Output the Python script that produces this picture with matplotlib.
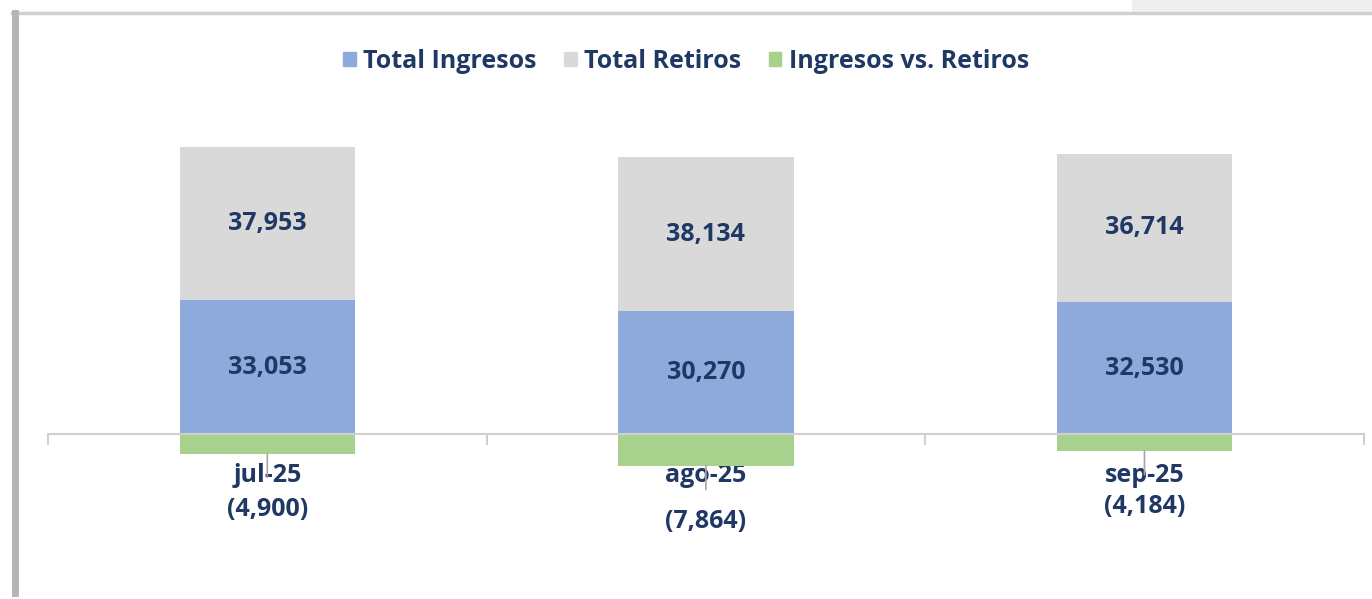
import matplotlib.pyplot as plt
from matplotlib.lines import Line2D
from matplotlib.patches import Rectangle, Patch
import numpy as np

meses = ['jul-25', 'ago-25', 'sep-25']
ingresos = [33053, 30270, 32530]
retiros = [37953, 38134, 36714]
neto = [-4900, -7864, -4184]

azul = '#8EA9DB'
gris = '#D9D9D9'
verde = '#A9D18E'
texto = '#1F3864'

plt.rcParams['font.family'] = ['Open Sans', 'DejaVu Sans']
fs = 18

fig = plt.figure(figsize=(13.72, 5.99), dpi=100)
ax = fig.add_axes([0.035, 0.0651, 0.959, 0.768])

x = np.arange(len(meses))
w = 0.4
ax.bar(x, ingresos, w, color=azul, label='Total Ingresos', zorder=2)
ax.bar(x, retiros, w, bottom=ingresos, color=gris, label='Total Retiros', zorder=2)
ax.bar(x, neto, w, color=verde, label='Ingresos vs. Retiros', zorder=2)

ax.set_xlim(-0.5, 2.5)
ax.set_ylim(-31100, 82500)

for i in range(len(meses)):
    ax.text(x[i], ingresos[i] / 2, f'{ingresos[i]:,}', ha='center', va='center',
            fontsize=fs, fontweight='bold', color=texto)
    ax.text(x[i], ingresos[i] + retiros[i] / 2, f'{retiros[i]:,}', ha='center', va='center',
            fontsize=fs, fontweight='bold', color=texto)
    ax.annotate(f'({-neto[i]:,})', xy=(x[i], neto[i]), xytext=(0, -40),
                textcoords='offset points', ha='center', va='center',
                fontsize=fs, fontweight='bold', color=texto,
                arrowprops=dict(arrowstyle='-', color='#A6A6A6', lw=1.2, shrinkA=12, shrinkB=0))

ax.spines['bottom'].set_position(('data', 0))
ax.spines['bottom'].set_color('#D0D0D0')
ax.spines['bottom'].set_linewidth(1.5)
ax.spines['bottom'].set_zorder(3)
for s in ['left', 'right', 'top']:
    ax.spines[s].set_visible(False)

ax.set_xticks(x)
ax.set_xticklabels(meses, fontsize=fs, fontweight='bold', color=texto)
ax.set_xticks([-0.5, 0.5, 1.5, 2.5], minor=True)
ax.tick_params(axis='x', which='major', length=0, pad=21)
ax.tick_params(axis='x', which='minor', length=8, color='#D0D0D0', width=1.5)
ax.set_yticks([])

handles = [Patch(color=azul), Patch(color=gris), Patch(color=verde)]
ax.legend(handles, ['Total Ingresos', 'Total Retiros', 'Ingresos vs. Retiros'],
          loc='center', bbox_to_anchor=(0.5, 0.898), bbox_transform=fig.transFigure,
          ncol=3, frameon=False, handlelength=0.5, handleheight=0.5,
          handletextpad=0.3, columnspacing=1.1,
          prop={'size': fs, 'weight': 'bold'})
for t in ax.get_legend().get_texts():
    t.set_color(texto)

# marco de la captura
fig.add_artist(Rectangle((0.825, 0.98), 0.175, 0.02, transform=fig.transFigure,
                         color='#EFEFEF', lw=0))
fig.add_artist(Line2D([0.009, 1], [0.979, 0.979], transform=fig.transFigure,
                      color='#CFCFCF', lw=2.5))
fig.add_artist(Line2D([0.011, 0.011], [0.01, 0.979], transform=fig.transFigure,
                      color='#B5B5B5', lw=5))

fig.savefig('out.png', dpi=100)
